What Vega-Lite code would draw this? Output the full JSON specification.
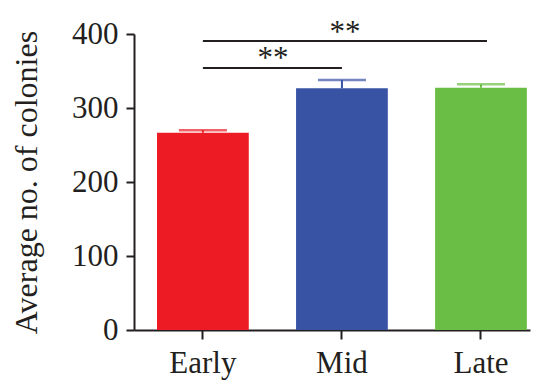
{
  "$schema": "https://vega.github.io/schema/vega-lite/v6.json",
  "autosize": "none",
  "width": 396,
  "height": 296,
  "padding": {"left": 134, "top": 34, "right": 11, "bottom": 57},
  "background": "white",
  "config": {
    "view": {"stroke": null},
    "font": "Liberation Serif",
    "axis": {"grid": false, "domainColor": "#231F20", "tickColor": "#231F20", "domainWidth": 2, "tickWidth": 2, "labelColor": "#231F20", "titleColor": "#231F20", "labelFont": "Liberation Serif", "titleFont": "Liberation Serif", "titleFontWeight": "normal"}
  },
  "datasets": {
    "bars": [
      {"stage": "Early", "mean": 266.6, "upper": 270},
      {"stage": "Mid", "mean": 326.6, "upper": 338},
      {"stage": "Late", "mean": 327.4, "upper": 332}
    ]
  },
  "layer": [
    {
      "data": {"name": "bars"},
      "mark": {"type": "bar"},
      "encoding": {
        "x": {"field": "stage", "type": "nominal",
          "scale": {"domain": ["Early", "Mid", "Late"], "paddingInner": 0.34, "paddingOuter": 0.094, "align": 0.88},
          "axis": {"title": null, "labelAngle": 0, "labelFontSize": 31, "tickSize": 9, "labelPadding": 9}},
        "y": {"field": "mean", "type": "quantitative",
          "scale": {"domain": [0, 400]},
          "axis": {"title": "Average no. of colonies", "values": [0, 100, 200, 300, 400], "labelFontSize": 31, "titleFontSize": 32, "tickSize": 8, "labelPadding": 8, "titlePadding": 28}},
        "color": {"field": "stage", "type": "nominal", "legend": null,
          "scale": {"domain": ["Early", "Mid", "Late"], "range": ["#ED1C24", "#3953A4", "#6ABD45"]}}
      }
    },
    {
      "data": {"name": "bars"},
      "mark": {"type": "rule", "strokeWidth": 2},
      "encoding": {
        "x": {"field": "stage", "type": "nominal"},
        "y": {"field": "mean", "type": "quantitative"},
        "y2": {"field": "upper"},
        "color": {"field": "stage", "type": "nominal", "legend": null}
      }
    },
    {
      "data": {"name": "bars"},
      "mark": {"type": "tick", "orient": "horizontal", "size": 48, "thickness": 2.5},
      "encoding": {
        "x": {"field": "stage", "type": "nominal"},
        "y": {"field": "upper", "type": "quantitative"},
        "color": {"field": "stage", "type": "nominal", "legend": null}
      }
    },
    {
      "data": {"values": [{"from": "Early", "to": "Mid", "y": 354}]},
      "mark": {"type": "rule", "strokeWidth": 2, "color": "#231F20"},
      "encoding": {
        "x": {"field": "from", "type": "nominal"},
        "x2": {"field": "to"},
        "y": {"field": "y", "type": "quantitative"}
      }
    },
    {
      "data": {"values": [{"from": "Early", "to": "Late", "y": 390.5}]},
      "mark": {"type": "rule", "strokeWidth": 2, "color": "#231F20", "x2Offset": 6},
      "encoding": {
        "x": {"field": "from", "type": "nominal"},
        "x2": {"field": "to"},
        "y": {"field": "y", "type": "quantitative"}
      }
    },
    {
      "data": {"values": [{"stage": "Mid", "y": 409, "label": "**"}]},
      "mark": {"type": "text", "fontSize": 31, "color": "#231F20", "baseline": "middle", "dx": 3, "dy": 6},
      "encoding": {
        "x": {"field": "stage", "type": "nominal"},
        "y": {"field": "y", "type": "quantitative"},
        "text": {"field": "label"}
      }
    },
    {
      "data": {"values": [{"stage": "Early", "y": 374, "label": "**"}]},
      "mark": {"type": "text", "fontSize": 31, "color": "#231F20", "baseline": "middle", "dx": 70, "dy": 6},
      "encoding": {
        "x": {"field": "stage", "type": "nominal"},
        "y": {"field": "y", "type": "quantitative"},
        "text": {"field": "label"}
      }
    }
  ]
}
